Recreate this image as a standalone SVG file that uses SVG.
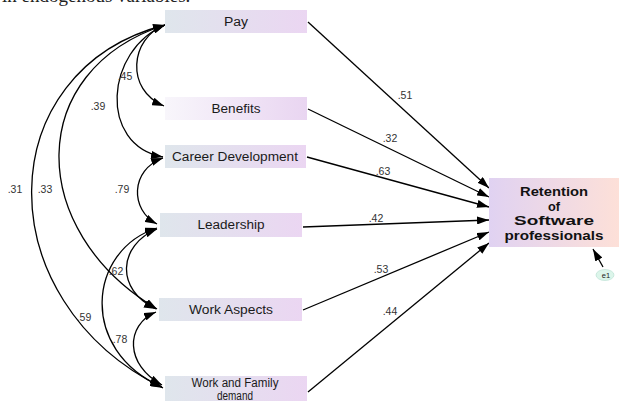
<svg xmlns="http://www.w3.org/2000/svg" width="619" height="401" viewBox="0 0 619 401">
  <defs>
    <linearGradient id="gBox" x1="0" y1="0" x2="1" y2="0">
      <stop offset="0" stop-color="#dfe6ec"/>
      <stop offset="1" stop-color="#ebd6f2"/>
    </linearGradient>
    <linearGradient id="gBoxLight" x1="0" y1="0" x2="1" y2="0">
      <stop offset="0" stop-color="#f8f6fb"/>
      <stop offset="1" stop-color="#e9d5f1"/>
    </linearGradient>
    <linearGradient id="gOut" x1="0" y1="0" x2="1" y2="0">
      <stop offset="0" stop-color="#e0d2f2"/>
      <stop offset="1" stop-color="#fde0d8"/>
    </linearGradient>
    <marker id="ah" viewBox="0 0 12 8" refX="12" refY="4" markerWidth="12" markerHeight="8" markerUnits="userSpaceOnUse" orient="auto-start-reverse">
      <path d="M0,0 L12,4 L0,8 z" fill="#000"/>
    </marker>
  </defs>
  <style>
    .node text { font-family: "Liberation Sans", Arial, sans-serif; font-size: 12px; fill: #1a1a1a; text-anchor: middle; }
    .out text { font-family: "Liberation Sans", Arial, sans-serif; font-size: 13px; font-weight: bold; fill: #111; text-anchor: middle; }
    .edge { fill: none; stroke: #000; stroke-width: 1.3; }
    .path { marker-end: url(#ah); }
    .cov { marker-start: url(#ah); marker-end: url(#ah); }
    .lbl { font-family: "Liberation Sans", Arial, sans-serif; font-size: 10.5px; fill: #333; text-anchor: middle; }
    .cap { font-family: "Liberation Serif", "Times New Roman", serif; font-size: 19px; fill: #222; }
  </style>

  <rect width="619" height="401" fill="#fff"/>
  <text class="cap" x="2" y="2">in endogenous variables.</text>

  <!-- connectors -->
  <g id="connectors">
    <!-- regression paths to the outcome -->
    <path class="edge path" d="M308,22 L489,188"/>
    <path class="edge path" d="M308,109 L489,197"/>
    <path class="edge path" d="M307,157 L489,207"/>
    <path class="edge path" d="M303,227 L489,220"/>
    <path class="edge path" d="M303,310 L489,232"/>
    <path class="edge path" d="M308,392 L489,243"/>
    <path class="edge path" d="M603,267 L593,249"/>
    <!-- covariances -->
    <path class="edge cov" d="M165,25 C130,38 125,90 164,106"/>
    <path class="edge cov" d="M165,25 C105,50 98,145 163,157"/>
    <path class="edge cov" d="M163,158 C130,170 130,210 157,224"/>
    <path class="edge cov" d="M165,25 C25,70 25,230 157,309"/>
    <path class="edge cov" d="M165,25 C-10,70 -15,300 163,388"/>
    <path class="edge cov" d="M157,228 C88,250 78,350 162,387"/>
    <path class="edge cov" d="M157,229 C118,245 115,290 156,309"/>
    <path class="edge cov" d="M156,312 C125,325 125,365 162,385"/>
    <!-- coefficients -->
    <text class="lbl" x="405" y="99">.51</text>
    <text class="lbl" x="390" y="142">.32</text>
    <text class="lbl" x="383" y="175">.63</text>
    <text class="lbl" x="376" y="222">.42</text>
    <text class="lbl" x="381" y="273">.53</text>
    <text class="lbl" x="390" y="315">.44</text>
    <text class="lbl" x="125" y="80">.45</text>
    <text class="lbl" x="98" y="110">.39</text>
    <text class="lbl" x="122" y="193">.79</text>
    <text class="lbl" x="45" y="193">.33</text>
    <text class="lbl" x="15" y="193">.31</text>
    <text class="lbl" x="116" y="275">.62</text>
    <text class="lbl" x="84" y="321">.59</text>
    <text class="lbl" x="120" y="343">.78</text>
  </g>

  <g id="pay" class="node">
    <rect x="165" y="10" width="142" height="23" fill="url(#gBox)"/>
    <text x="236" y="26" textLength="24" lengthAdjust="spacingAndGlyphs">Pay</text>
  </g>
  <g id="benefits" class="node">
    <rect x="165" y="97" width="142" height="23" fill="url(#gBoxLight)"/>
    <text x="236" y="113" textLength="49" lengthAdjust="spacingAndGlyphs">Benefits</text>
  </g>
  <g id="career" class="node">
    <rect x="165" y="145" width="141" height="23" fill="url(#gBox)"/>
    <text x="235" y="161" textLength="126" lengthAdjust="spacingAndGlyphs">Career Development</text>
  </g>
  <g id="leadership" class="node">
    <rect x="160" y="213" width="142" height="24" fill="url(#gBox)"/>
    <text x="231" y="229" textLength="67" lengthAdjust="spacingAndGlyphs">Leadership</text>
  </g>
  <g id="work-aspects" class="node">
    <rect x="159" y="298" width="143" height="23" fill="url(#gBox)"/>
    <text x="231" y="314" textLength="84" lengthAdjust="spacingAndGlyphs">Work Aspects</text>
  </g>
  <g id="work-family" class="node">
    <rect x="165" y="376" width="142" height="30" fill="url(#gBox)"/>
    <text x="235" y="387" font-size="11" textLength="87" lengthAdjust="spacingAndGlyphs">Work and Family</text>
    <text x="235" y="399.5" font-size="11" textLength="36" lengthAdjust="spacingAndGlyphs">demand</text>
  </g>
  <g id="retention" class="out">
    <rect x="489" y="178" width="130" height="69" fill="url(#gOut)"/>
    <text x="554" y="196" textLength="68" lengthAdjust="spacingAndGlyphs">Retention</text>
    <text x="554" y="211" textLength="12" lengthAdjust="spacingAndGlyphs">of</text>
    <text x="554" y="225" textLength="80" lengthAdjust="spacingAndGlyphs">Software</text>
    <text x="554" y="240" textLength="99" lengthAdjust="spacingAndGlyphs">professionals</text>
  </g>
  <g id="e1">
    <ellipse cx="605" cy="275" rx="9" ry="5.5" fill="#dcf5ea" stroke="#b5ddd0" stroke-width="0.6"/>
    <text x="606" y="278" font-family="Liberation Sans, Arial, sans-serif" font-size="7.5" fill="#222" text-anchor="middle">e1</text>
  </g>
</svg>
